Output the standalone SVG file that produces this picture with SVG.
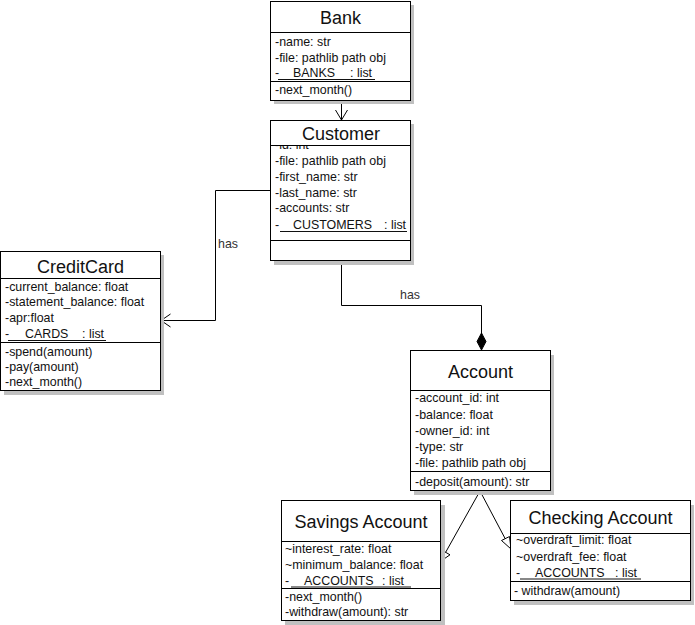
<svg xmlns="http://www.w3.org/2000/svg" width="695" height="625" viewBox="0 0 695 625">
<style>
.box{fill:#fff;stroke:#000;stroke-width:1}
.sh{fill:#c0c0c0}
.sep{stroke:#000;stroke-width:1}
.t{font-family:"Liberation Sans",Arial,sans-serif;font-size:18px;fill:#111;text-anchor:middle}
.a{font-family:"Liberation Sans",Arial,sans-serif;font-size:12.4px;fill:#111}
.ul{stroke:#111;stroke-width:1}
.c{fill:none;stroke:#000;stroke-width:1}
.lbl{font-family:"Liberation Sans",Arial,sans-serif;font-size:12.4px;fill:#333}
</style>
<defs>
<clipPath id="custClip"><rect x="271" y="146" width="138" height="94"/></clipPath>
</defs>
<rect width="695" height="625" fill="#fff"/>

<g id="connectors">
<polyline class="c" points="341.5,100 341.5,120"/>
<polyline class="c" points="335.5,110 341.5,120 347.5,110"/>
<polyline class="c" points="270,190.5 215.5,190.5 215.5,320.5 161,320.5"/>
<polyline class="c" points="170.5,314 161,320.5 170.5,327"/>
<text class="lbl" x="218" y="248">has</text>
<polyline class="c" points="341.5,261 341.5,305.5 481.5,305.5 481.5,334"/>
<polygon points="481.5,333 486,341.5 481.5,350 477,341.5" fill="#000" stroke="#000"/>
<text class="lbl" x="400" y="299">has</text>
<line class="c" x1="480" y1="491" x2="443" y2="557"/>
<polygon points="441,561 441.6,550 450,554.8" fill="#fff" stroke="#000"/>
<line class="c" x1="480" y1="491" x2="508" y2="544"/>
<polygon points="511,549 501.5,540.5 509.5,536.5" fill="#fff" stroke="#000"/>
</g>

<g id="Bank">
<rect class="sh" x="274" y="5" width="140" height="99"/>
<rect class="box" x="270.5" y="1.5" width="140" height="99"/>
<line class="sep" x1="270.5" y1="32.5" x2="410.5" y2="32.5"/>
<line class="sep" x1="270.5" y1="81.5" x2="410.5" y2="81.5"/>
<text class="t" x="340.5" y="24">Bank</text>
<text class="a" x="275" y="46">-name: str</text>
<text class="a" x="275" y="62">-file: pathlib path obj</text>
<text class="a" x="275" y="77">-<tspan x="293">BANKS</tspan><tspan x="350">: list</tspan></text>
<line class="ul" x1="278" y1="79.5" x2="375" y2="79.5"/>
<text class="a" x="275" y="94">-next_month()</text>
</g>

<g id="Customer">
<rect class="sh" x="274" y="124" width="140" height="141"/>
<rect class="box" x="270.5" y="120.5" width="140" height="140"/>
<line class="sep" x1="270.5" y1="145.5" x2="410.5" y2="145.5"/>
<line class="sep" x1="270.5" y1="240.5" x2="410.5" y2="240.5"/>
<text class="t" x="341" y="140">Customer</text>
<g clip-path="url(#custClip)"><text class="a" x="275" y="149">-id: int</text></g>
<text class="a" x="275" y="165">-file: pathlib path obj</text>
<text class="a" x="275" y="181">-first_name: str</text>
<text class="a" x="275" y="197">-last_name: str</text>
<text class="a" x="275" y="212">-accounts: str</text>
<text class="a" x="275" y="229">-<tspan x="293">CUSTOMERS</tspan><tspan x="384">: list</tspan></text>
<line class="ul" x1="280" y1="231.5" x2="407" y2="231.5"/>
</g>

<g id="CreditCard">
<rect class="sh" x="4" y="255" width="160" height="140"/>
<rect class="box" x="0.5" y="251.5" width="160" height="139"/>
<line class="sep" x1="0.5" y1="278.5" x2="160.5" y2="278.5"/>
<line class="sep" x1="0.5" y1="342.5" x2="160.5" y2="342.5"/>
<text class="t" x="80.5" y="273">CreditCard</text>
<text class="a" x="5" y="291">-current_balance: float</text>
<text class="a" x="5" y="306">-statement_balance: float</text>
<text class="a" x="5" y="322">-apr:float</text>
<text class="a" x="5" y="338">-<tspan x="25">CARDS</tspan><tspan x="82">: list</tspan></text>
<line class="ul" x1="8" y1="340.5" x2="106" y2="340.5"/>
<text class="a" x="5" y="356">-spend(amount)</text>
<text class="a" x="5" y="371">-pay(amount)</text>
<text class="a" x="5" y="386">-next_month()</text>
</g>

<g id="Account">
<rect class="sh" x="414" y="355" width="140" height="140"/>
<rect class="box" x="410.5" y="350.5" width="140" height="140"/>
<line class="sep" x1="410.5" y1="390.5" x2="550.5" y2="390.5"/>
<line class="sep" x1="410.5" y1="471.5" x2="550.5" y2="471.5"/>
<text class="t" x="480.5" y="378">Account</text>
<text class="a" x="415" y="402">-account_id: int</text>
<text class="a" x="415" y="419">-balance: float</text>
<text class="a" x="415" y="435">-owner_id: int</text>
<text class="a" x="415" y="451">-type: str</text>
<text class="a" x="415" y="467">-file: pathlib path obj</text>
<text class="a" x="415" y="486">-deposit(amount): str</text>
</g>

<g id="SavingsAccount">
<rect class="sh" x="285" y="505" width="160" height="120"/>
<rect class="box" x="281.5" y="500.5" width="159" height="120"/>
<line class="sep" x1="281.5" y1="541.5" x2="440.5" y2="541.5"/>
<line class="sep" x1="281.5" y1="588.5" x2="440.5" y2="588.5"/>
<text class="t" x="361" y="528">Savings Account</text>
<text class="a" x="285" y="553">~interest_rate: float</text>
<text class="a" x="285" y="569">~minimum_balance: float</text>
<text class="a" x="285" y="585">-<tspan x="304">ACCOUNTS</tspan><tspan x="382">: list</tspan></text>
<line class="ul" x1="291" y1="587" x2="411" y2="587"/>
<text class="a" x="285" y="601">-next_month()</text>
<text class="a" x="285" y="616">-withdraw(amount): str</text>
</g>

<g id="CheckingAccount">
<rect class="sh" x="514" y="505" width="180" height="100"/>
<rect class="box" x="510.5" y="500.5" width="180" height="100"/>
<line class="sep" x1="510.5" y1="533.5" x2="690.5" y2="533.5"/>
<line class="sep" x1="510.5" y1="581.5" x2="690.5" y2="581.5"/>
<text class="t" x="600.5" y="524">Checking Account</text>
<text class="a" x="516" y="544">~overdraft_limit: float</text>
<text class="a" x="516" y="561">~overdraft_fee: float</text>
<text class="a" x="516" y="577">-<tspan x="535">ACCOUNTS</tspan><tspan x="615">: list</tspan></text>
<line class="ul" x1="520" y1="579" x2="641" y2="579"/>
<text class="a" x="514" y="595">- withdraw(amount)</text>
</g>
</svg>
